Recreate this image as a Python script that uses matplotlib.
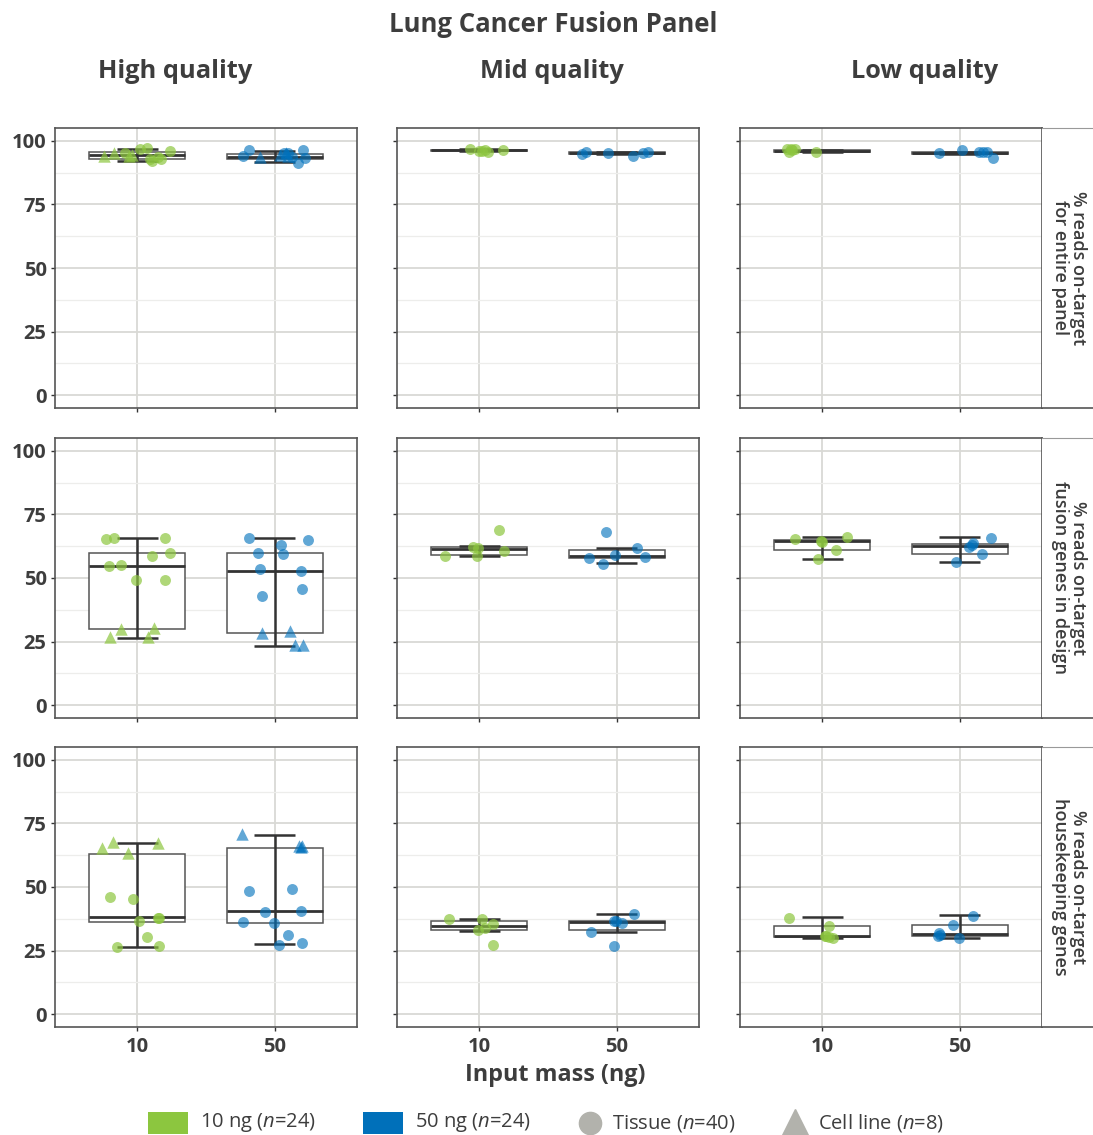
import matplotlib
matplotlib.use("Agg")
import matplotlib.pyplot as plt
from matplotlib.patches import Rectangle
from matplotlib.lines import Line2D

# ---- data ----
qualities = ["High quality", "Mid quality", "Low quality"]
metrics = ["% reads on-target\nfor entire panel",
           "% reads on-target\nfusion genes in design",
           "% reads on-target\nhousekeeping genes"]
masses = ["10", "50"]

# box stats per panel: [whisker low, q1, median, q3, whisker high]
# rows = metric (entire, fusion, housekeeping), one list per quality & mass
hq_box_10 = [[92.0, 92.8, 94.3, 95.4, 96.7], [26.6, 29.9, 54.9, 59.7, 65.6], [26.3, 36.4, 38.1, 62.9, 67.3]]
hq_box_50 = [[91.7, 93.0, 93.8, 94.7, 96.1], [23.1, 28.2, 52.6, 59.9, 65.6], [27.7, 35.9, 40.4, 65.4, 70.3]]
mq_box_10 = [[95.8, 95.9, 96.2, 96.3, 96.6], [58.6, 59.2, 61.2, 62.1, 62.5], [32.9, 33.2, 34.5, 36.8, 37.6]]
mq_box_50 = [[94.6, 94.9, 95.2, 95.4, 95.6], [55.8, 57.9, 58.6, 60.9, 61.7], [32.2, 33.2, 36.1, 36.5, 39.3]]
lq_box_10 = [[95.7, 95.7, 96.0, 96.3, 96.4], [57.4, 61.0, 64.7, 65.1, 66.0], [29.8, 30.4, 30.9, 34.5, 38.1]]
lq_box_50 = [[94.8, 94.9, 95.2, 95.5, 95.6], [56.1, 59.3, 62.5, 63.2, 66.0], [29.8, 30.7, 31.6, 35.2, 38.9]]

# tissue samples (circles): values and horizontal jitter (category units)
hq_tis_10 = [[95.1, 96.6, 97.3, 92.7, 92.2, 93.5, 92.8, 96.1],
             [65.3, 65.6, 54.7, 55.3, 49.1, 58.8, 65.6, 59.9, 49.1],
             [45.9, 45.4, 36.5, 37.8, 38.0, 30.4, 26.3, 26.8]]
hq_tis_10_jit = [[-0.09, 0.02, 0.07, 0.09, 0.11, 0.15, 0.17, 0.24],
                 [-0.23, -0.17, -0.21, -0.12, -0.01, 0.11, 0.20, 0.24, 0.20],
                 [-0.20, -0.03, 0.01, 0.15, 0.16, 0.07, -0.15, 0.16]]
hq_cell_10 = [[94.0, 95.1, 94.0, 94.4], [26.8, 30.0, 26.8, 30.4], [65.2, 67.7, 63.2, 67.1]]
hq_cell_10_jit = [[-0.24, -0.17, -0.06, -0.04], [-0.20, -0.12, 0.08, 0.12], [-0.26, -0.18, -0.07, 0.15]]

hq_tis_50 = [[94.0, 96.4, 95.1, 93.5, 91.4, 96.4, 93.1, 95.1],
             [65.6, 63.0, 64.9, 59.9, 59.3, 53.4, 52.7, 43.0, 45.6],
             [48.5, 49.2, 40.2, 40.4, 36.3, 35.9, 31.1, 27.3, 28.1]]
hq_tis_50_jit = [[-0.23, -0.19, 0.10, 0.13, 0.17, 0.21, 0.22, 0.07],
                 [-0.19, 0.05, 0.24, -0.12, 0.06, -0.11, 0.19, -0.09, 0.20],
                 [-0.19, 0.13, -0.07, 0.19, -0.23, -0.005, 0.10, 0.03, 0.20]]
hq_cell_50 = [[93.5, 94.4, 95.1, 94.0], [28.4, 29.1, 23.5, 23.8], [71.0, 66.3, 66.1, 65.8]]
hq_cell_50_jit = [[-0.11, 0.04, 0.08, 0.10], [-0.09, 0.11, 0.15, 0.21], [-0.24, 0.18, 0.20, 0.19]]

mq_tis_10 = [[96.6, 96.1, 96.3, 95.7, 96.4, 96.0],
             [58.7, 62.3, 61.8, 58.6, 69.0, 60.7],
             [37.6, 37.6, 33.0, 33.8, 35.4, 27.3]]
mq_tis_10_jit = [[-0.07, 0.02, 0.04, 0.06, 0.17, 0.00],
                 [-0.25, -0.05, -0.01, -0.02, 0.14, 0.18],
                 [-0.22, 0.02, -0.01, 0.04, 0.10, 0.10]]
mq_tis_50 = [[94.8, 95.5, 95.3, 94.1, 95.1, 95.5],
             [67.9, 58.0, 55.6, 59.1, 61.7, 58.2],
             [39.4, 36.5, 36.7, 35.9, 32.4, 27.0]]
mq_tis_50_jit = [[-0.25, -0.22, -0.06, 0.12, 0.19, 0.23],
                 [-0.08, -0.20, -0.10, -0.01, 0.15, 0.21],
                 [0.13, -0.005, -0.02, 0.04, -0.19, -0.02]]

lq_tis_10 = [[96.8, 96.8, 95.7, 95.5, 96.3, 96.6],
             [65.2, 64.5, 66.0, 61.0, 57.3, 64.0],
             [38.0, 34.6, 30.7, 30.4, 29.8, 30.6]]
lq_tis_10_jit = [[-0.26, -0.20, -0.24, -0.05, -0.22, -0.23],
                 [-0.20, -0.01, 0.18, 0.10, -0.03, 0.00],
                 [-0.24, 0.05, 0.02, 0.05, 0.08, 0.03]]
lq_tis_50 = [[95.1, 96.4, 95.5, 95.5, 93.2, 95.4],
             [65.8, 63.6, 62.3, 59.5, 56.1, 63.0],
             [38.7, 35.2, 32.0, 30.7, 30.0, 31.2]]
lq_tis_50_jit = [[-0.15, 0.02, 0.14, 0.20, 0.24, 0.17],
                 [0.23, 0.10, 0.07, 0.16, -0.03, 0.09],
                 [0.10, -0.05, -0.15, -0.16, -0.005, -0.14]]

boxes = {"High quality": (hq_box_10, hq_box_50),
         "Mid quality": (mq_box_10, mq_box_50),
         "Low quality": (lq_box_10, lq_box_50)}
tissue = {"High quality": ((hq_tis_10, hq_tis_10_jit), (hq_tis_50, hq_tis_50_jit)),
          "Mid quality": ((mq_tis_10, mq_tis_10_jit), (mq_tis_50, mq_tis_50_jit)),
          "Low quality": ((lq_tis_10, lq_tis_10_jit), (lq_tis_50, lq_tis_50_jit))}
cells = {"High quality": ((hq_cell_10, hq_cell_10_jit), (hq_cell_50, hq_cell_50_jit))}

green = "#8dc63f"
blue = "#0071bc"
gray_leg = "#b2b2ac"
txt = "#3d3d3d"
mass_colors = [green, blue]
mass_alpha = [0.7, 0.62]

plt.rcParams['font.family'] = ['Open Sans', 'DejaVu Sans']
plt.rcParams['mathtext.fontset'] = 'custom'
plt.rcParams['mathtext.it'] = 'Open Sans:italic'
plt.rcParams['mathtext.rm'] = 'Open Sans'

W, H = 1093, 1135
fig = plt.figure(figsize=(W / 100, H / 100), dpi=100)

col_left = [55, 397, 740]
col_w = 302
row_top = [128, 438, 747]
row_h = 280

for r, metric in enumerate(metrics):
    for c, q in enumerate(qualities):
        ax = fig.add_axes([col_left[c] / W, 1 - (row_top[r] + row_h) / H, col_w / W, row_h / H])

        for m in range(2):
            pos = m + 1
            lo, q1, med, q3, hi = boxes[q][m][r]
            stats = [dict(med=med, q1=q1, q3=q3, whislo=q1, whishi=q3, fliers=[])]
            ax.bxp(stats, positions=[pos], widths=0.7, showcaps=False, showfliers=False,
                   patch_artist=True, manage_ticks=False,
                   boxprops=dict(facecolor='white', edgecolor='#555555', lw=1.1),
                   medianprops=dict(color='#333333', lw=2.0),
                   whiskerprops=dict(lw=0), zorder=2)
            # errorbar-style whiskers through the box
            ax.vlines(pos, lo, hi, color='#333333', lw=1.8, zorder=2.5)
            ax.hlines([lo, hi], pos - 0.15, pos + 0.15, color='#333333', lw=1.8, zorder=2.5)

            vals, jit = tissue[q][m]
            ax.scatter([pos + j for j in jit[r]], vals[r], s=62, marker='o',
                       color=mass_colors[m], alpha=mass_alpha[m], lw=0, zorder=3)
            if q in cells:
                cv, cj = cells[q][m]
                ax.scatter([pos + j for j in cj[r]], cv[r], s=80, marker='^',
                           color=mass_colors[m], alpha=mass_alpha[m], lw=0, zorder=3)

        ax.set_xlim(0.4, 2.6)
        ax.set_ylim(-5, 105)
        ax.set_yticks([0, 25, 50, 75, 100])
        ax.set_yticks([12.5, 37.5, 62.5, 87.5], minor=True)
        ax.set_xticks([1, 2])
        ax.grid(which='major', color='#d9d9d5', lw=1.3, zorder=0)
        ax.grid(which='minor', axis='y', color='#ededeb', lw=0.9, zorder=0)
        ax.set_axisbelow(True)
        for s in ax.spines.values():
            s.set_color('#555555')
            s.set_linewidth(1.2)
        ax.tick_params(axis='y', which='major', length=3, color='#333333', width=1,
                       labelsize=14.5, labelcolor=txt, pad=3)
        ax.tick_params(axis='y', which='minor', length=0)
        ax.tick_params(axis='x', length=3, color='#333333', width=1,
                       labelsize=14.5, labelcolor=txt, pad=4)
        if c == 0:
            ax.set_yticklabels(["0", "25", "50", "75", "100"], fontweight='bold')
        else:
            ax.set_yticklabels([])
        if r == 2:
            ax.set_xticklabels(masses, fontweight='bold')
        else:
            ax.set_xticklabels([])

    # facet strip on the right
    sx = fig.add_axes([(col_left[2] + col_w) / W, 1 - (row_top[r] + row_h) / H, 60 / W, row_h / H])
    sx.set_xticks([])
    sx.set_yticks([])
    sx.spines['left'].set_visible(False)
    sx.spines['right'].set_visible(False)
    sx.spines['top'].set_color('#999999')
    sx.spines['bottom'].set_color('#555555')
    sx.spines['bottom'].set_linewidth(1.2)
    sx.text(0.45, 0.5, metric, rotation=270, ha='center', va='center', fontsize=13,
            color=txt, fontweight='semibold', linespacing=1.0, transform=sx.transAxes)

# titles
fig.text(553 / W, 1 - 24 / H, "Lung Cancer Fusion Panel", ha='center', va='center',
         fontsize=18.5, fontweight='bold', color=txt)
for x, q in zip([175, 552, 925], qualities):
    fig.text(x / W, 1 - 71 / H, q, ha='center', va='center', fontsize=18.3,
             fontweight='bold', color=txt)
fig.text(555 / W, 1 - 1075 / H, "Input mass (ng)", ha='center', va='center',
         fontsize=16.8, fontweight='bold', color=txt)

# legend
leg_y = 1123
leg_fs = 14.5
for x0, col, lab in [(148, "#8cc63f", r"10 ng ($n$=24)"), (363, "#0070ba", r"50 ng ($n$=24)")]:
    fig.add_artist(Rectangle((x0 / W, 1 - 1134 / H), 40 / W, 22 / H,
                             transform=fig.transFigure, color=col, lw=0))
    fig.text((x0 + 52) / W, 1 - leg_y / H, lab, ha='left', va='center',
             fontsize=leg_fs, color=txt)
fig.add_artist(Line2D([590 / W], [1 - leg_y / H], marker='o', markersize=16,
                      color=gray_leg, lw=0, transform=fig.transFigure))
fig.text(612 / W, 1 - leg_y / H, r"Tissue ($n$=40)", ha='left', va='center',
         fontsize=leg_fs, color=txt)
fig.add_artist(Line2D([795 / W], [1 - (leg_y - 1) / H], marker='^', markersize=19,
                      color=gray_leg, lw=0, transform=fig.transFigure))
fig.text(818 / W, 1 - leg_y / H, r"Cell line ($n$=8)", ha='left', va='center',
         fontsize=leg_fs, color=txt)

fig.savefig("out.png", dpi=100)
